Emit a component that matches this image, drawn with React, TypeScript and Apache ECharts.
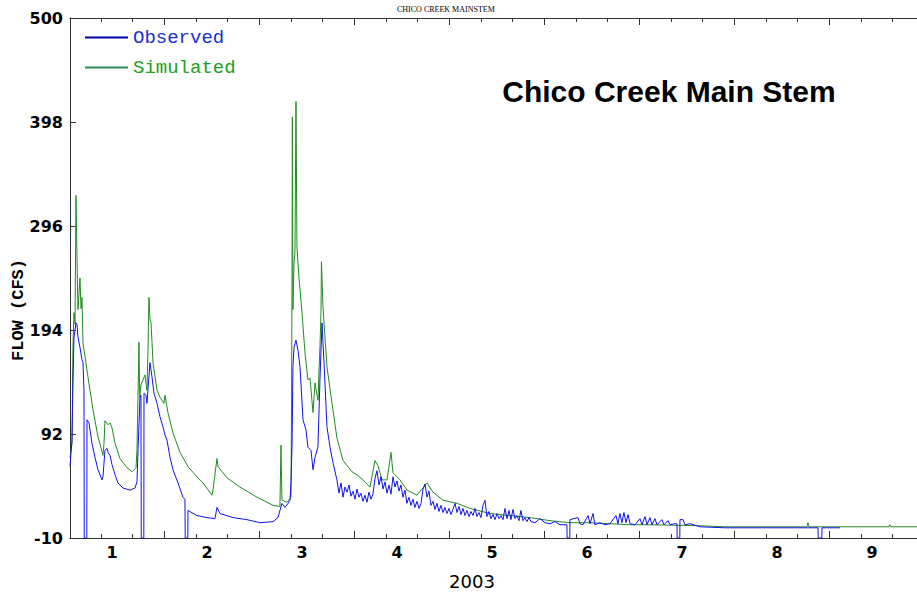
import React, { useEffect, useRef } from "react";
import * as echarts from "echarts";

// Observed flow (blue): month position, flow in CFS
const obsMonth = [
  0.558, 0.579, 0.589, 0.6, 0.621, 0.632, 0.642, 0.663, 0.684, 0.695, 0.705, 0.708, 0.735, 0.737,
  0.758, 0.789, 0.821, 0.853, 0.895, 0.905, 0.926, 0.947, 0.958, 0.979, 1.0, 1.032, 1.063, 1.116,
  1.189, 1.242, 1.263, 1.274, 1.295, 1.305, 1.308, 1.335, 1.337, 1.358, 1.368, 1.4, 1.421, 1.442,
  1.474, 1.505, 1.537, 1.558, 1.579, 1.611, 1.642, 1.695, 1.747, 1.768, 1.771, 1.798, 1.8, 1.895,
  2.0, 2.084, 2.105, 2.137, 2.274, 2.421, 2.558, 2.695, 2.747, 2.789, 2.821, 2.853, 2.874, 2.884,
  2.895, 2.905, 2.916, 2.937, 2.958, 2.979, 3.011, 3.042, 3.063, 3.095, 3.116, 3.137, 3.168, 3.189,
  3.211, 3.232, 3.263, 3.295, 3.326,
  3.368, 3.389, 3.411, 3.432, 3.453, 3.474, 3.495, 3.516, 3.537, 3.558, 3.579, 3.6, 3.621, 3.642,
  3.663, 3.684, 3.705, 3.726, 3.747, 3.768, 3.789, 3.811, 3.832, 3.853, 3.874, 3.895, 3.916, 3.937,
  3.958, 3.979, 4.0, 4.021, 4.042, 4.063, 4.084, 4.105, 4.126, 4.147, 4.168, 4.189, 4.211, 4.232,
  4.253, 4.274, 4.295, 4.316, 4.337, 4.358, 4.379, 4.4, 4.421, 4.442, 4.463, 4.484, 4.505, 4.526,
  4.547, 4.568, 4.589, 4.611, 4.632, 4.653, 4.674, 4.695, 4.716, 4.737, 4.758, 4.779, 4.8, 4.821,
  4.842, 4.863, 4.884, 4.905, 4.926, 4.947, 4.968, 4.989, 5.011, 5.032, 5.053, 5.074, 5.095, 5.116,
  5.137, 5.158, 5.179, 5.2, 5.221, 5.242, 5.263, 5.284, 5.305, 5.326, 5.347, 5.368, 5.389, 5.411,
  5.453, 5.505, 5.558, 5.611, 5.663, 5.716,
  5.789, 5.791, 5.819, 5.821, 5.905, 5.926, 5.958, 6.011, 6.032, 6.063, 6.084, 6.137, 6.189, 6.242,
  6.305, 6.326, 6.347, 6.368, 6.389, 6.411, 6.432, 6.453, 6.505, 6.558, 6.579, 6.611, 6.632, 6.663,
  6.684, 6.716, 6.737, 6.789, 6.811, 6.853, 6.874, 6.926, 6.947, 6.949, 6.977, 6.979, 7.011, 7.032,
  7.084, 7.189, 7.453, 8.432, 8.434, 8.472, 8.474, 8.663,
];
const obsFlow = [
  60, 86, 142, 187, 201, 199, 187, 177, 165, 162, 135, -10, -10, 106,
  103, 83, 69, 57, 47, 50, 76, 78, 74, 71, 62, 52, 44, 39,
  37, 39, 45, 76, 128, 130, -10, -10, 132, 130, 122, 162, 148, 132,
  122, 109, 99, 91, 86, 69, 57, 44, 30, 28, -10, -10, 17, 12,
  10, 9, 20, 14, 10, 8, 5, 6, 10, 24, 20, 24, 27, 44,
  79, 158, 177, 184, 174, 158, 106, 96, 79, 76, 57, 69, 79, 145,
  201, 162, 99, 79, 64,
  47, 34, 44, 30, 40, 35, 42, 31, 36, 28, 38, 30, 34, 26,
  32, 25, 35, 28, 33, 48, 56, 42, 50, 38, 45, 34, 42, 33,
  50, 40, 46, 36, 42, 30, 37, 24, 30, 22, 28, 20, 26, 19,
  24, 38, 43, 30, 36, 22, 26, 18, 24, 16, 22, 15, 20, 14,
  19, 13, 18, 24, 15, 21, 13, 19, 12, 17, 11, 16, 12, 19,
  11, 15, 10, 22, 27, 11, 16, 9, 13, 8, 14, 9, 12, 8,
  19, 9, 17, 8, 18, 9, 12, 7, 17, 7, 10, 6, 10, 6,
  5, 9, 5, 4, 6, 3,
  3, -10, -10, 8, 10, 4, 3, 12, 4, 14, 3, 5, 3, 4,
  12, 4, 14, 5, 15, 5, 13, 4, 3, 9, 3, 11, 3, 10,
  3, 9, 3, 8, 3, 7, 3, 4, 4, -10, -10, 8, 8, 3,
  4, 1, 0, 0, -10, -10, 0, 0,
];

// Simulated flow (green)
const simMonth = [
  0.558, 0.579, 0.589, 0.6, 0.611, 0.621, 0.632, 0.642, 0.653, 0.663, 0.674, 0.684, 0.695, 0.716,
  0.747, 0.8, 0.853, 0.895, 0.905, 0.916, 0.926, 0.958, 0.979, 1.0, 1.032, 1.084, 1.158, 1.211,
  1.253, 1.263, 1.274, 1.284, 1.292, 1.305, 1.326, 1.347, 1.368, 1.379, 1.389, 1.4, 1.411, 1.432,
  1.474, 1.505, 1.547, 1.558, 1.589, 1.642, 1.716, 1.8, 1.895, 1.958, 2.053, 2.063, 2.105, 2.116,
  2.211, 2.347, 2.526, 2.695, 2.768, 2.779, 2.789, 2.842, 2.884, 2.89, 2.895, 2.899, 2.905, 2.916,
  2.926, 2.937, 2.947, 2.968, 3.0, 3.032, 3.063, 3.084, 3.116, 3.137, 3.168, 3.19, 3.2, 3.205,
  3.221, 3.263, 3.316, 3.368, 3.432, 3.526, 3.579, 3.642, 3.716, 3.768, 3.8, 3.842, 3.895, 3.937,
  3.958, 4.032, 4.105, 4.211, 4.274, 4.316, 4.379, 4.484, 4.632, 4.768, 4.979, 5.189, 5.4, 5.611,
  5.821, 6.032, 6.242, 6.453, 6.663, 7.189, 7.453, 8.316, 8.326, 8.336, 9.179, 9.189, 9.2, 9.474,
];
const simFlow = [
  69, 83, 177, 211, 200, 326, 263, 214, 230, 245, 215, 226, 181, 168,
  148, 116, 89, 75, 71, 83, 105, 101, 103, 98, 83, 68, 59, 55,
  59, 76, 130, 182, 128, 140, 145, 150, 135, 174, 226, 205, 201, 162,
  135, 128, 122, 130, 113, 93, 74, 60, 50, 44, 32, 37, 68, 60,
  49, 40, 30, 22, 21, 81, 27, 25, 30, 120, 246, 403, 214, 260,
  270, 418, 275, 246, 211, 171, 145, 147, 113, 142, 125, 180, 211, 261,
  217, 158, 122, 88, 66, 55, 52, 47, 40, 66, 61, 47, 47, 74,
  54, 47, 37, 32, 39, 44, 35, 27, 24, 19, 14, 12, 10, 7,
  5, 5, 4, 3, 3, 2, 1, 1, 5, 1, 1, 3, 1, 1,
];

const yTicks = [-10, 92, 194, 296, 398, 500];
const xLabels = [1, 2, 3, 4, 5, 6, 7, 8, 9];
const xMajorTicks = [1.55, 2.55, 3.55, 4.55, 5.55, 6.55, 7.55, 8.55];
const xMinorTicks = [
  0.883, 1.217, 1.883, 2.217, 2.883, 3.217, 3.883, 4.217, 4.883, 5.217, 5.883, 6.217, 6.883, 7.217,
  7.883, 8.217, 8.883, 9.217,
];

const X_MIN = 0.558;
const X_MAX = 9.474;

export default function App() {
  const ref = useRef<HTMLDivElement>(null);
  useEffect(() => {
    if (!ref.current) return;
    const chart = echarts.init(ref.current, null, { renderer: "svg" });
    const obsData = obsMonth.map((m, i) => [m, obsFlow[i]]);
    const simData = simMonth.map((m, i) => [m, simFlow[i]]);
    const labelFont = { fontFamily: "DejaVu Sans", fontWeight: "bold" as const, fontSize: 16, color: "#000" };
    const gridBox = { left: 70, right: 0, top: 18, bottom: 56 };
    const xBase = (pos: string, grid: number) => ({
      type: "value" as const,
      gridIndex: grid,
      position: pos,
      min: X_MIN,
      max: X_MAX,
      splitLine: { show: false },
      axisLine: { show: true, onZero: false, lineStyle: { color: "#333", width: 1 } },
    });
    chart.setOption({
      animation: false,
      backgroundColor: "#fff",
      grid: [gridBox, gridBox],
      xAxis: [
        {
          ...xBase("bottom", 0),
          axisTick: { show: true, inside: true, length: 7, customValues: xMajorTicks, lineStyle: { color: "#333" } },
          axisLabel: { show: true, customValues: xLabels, margin: 6, ...labelFont },
        },
        {
          ...xBase("top", 0),
          axisTick: { show: true, inside: true, length: 7, customValues: xMajorTicks, lineStyle: { color: "#333" } },
          axisLabel: { show: false },
        },
        {
          ...xBase("bottom", 1),
          axisTick: { show: true, inside: true, length: 4, customValues: xMinorTicks, lineStyle: { color: "#333" } },
          axisLabel: { show: false },
        },
        {
          ...xBase("top", 1),
          axisTick: { show: true, inside: true, length: 4, customValues: xMinorTicks, lineStyle: { color: "#333" } },
          axisLabel: { show: false },
        },
      ],
      yAxis: [
        {
          type: "value",
          gridIndex: 0,
          min: -10,
          max: 500,
          splitLine: { show: false },
          axisLine: { show: true, lineStyle: { color: "#333", width: 1 } },
          axisTick: { show: true, inside: true, length: 6, customValues: yTicks, lineStyle: { color: "#333" } },
          axisLabel: { show: true, customValues: yTicks, margin: 7, ...labelFont },
        },
        {
          type: "value",
          gridIndex: 1,
          min: -10,
          max: 500,
          show: false,
        },
      ],
      legend: {
        orient: "vertical",
        left: 85,
        top: 28,
        padding: 0,
        itemWidth: 43,
        itemHeight: 2,
        itemGap: 11,
        icon: "rect",
        selectedMode: false,
        textStyle: { fontFamily: "Liberation Mono", fontSize: 19 },
        data: [
          { name: "Observed", itemStyle: { color: "#0000a8" }, textStyle: { color: "#2030d0" } },
          { name: "Simulated", itemStyle: { color: "#2e8b57" }, textStyle: { color: "#20a020" } },
        ],
      },
      graphic: [
        {
          type: "text",
          left: 397,
          top: 5,
          style: { text: "CHICO CREEK MAINSTEM", fontFamily: "Liberation Serif", fontSize: 8, fill: "#000" },
        },
        {
          type: "text",
          x: 669,
          y: 91,
          style: {
            text: "Chico Creek Main Stem",
            fontFamily: "Liberation Sans",
            fontWeight: "bold",
            fontSize: 30,
            fill: "#000",
            align: "center",
            verticalAlign: "middle",
          },
        },
        {
          type: "text",
          x: 18,
          y: 310,
          rotation: Math.PI / 2,
          style: {
            text: "FLOW (CFS)",
            fontFamily: "Liberation Mono",
            fontWeight: "bold",
            fontSize: 17,
            fill: "#000",
            align: "center",
            verticalAlign: "middle",
          },
        },
        {
          type: "text",
          x: 472,
          y: 581,
          style: {
            text: "2003",
            fontFamily: "DejaVu Sans",
            fontSize: 18,
            fill: "#000",
            align: "center",
            verticalAlign: "middle",
          },
        },
      ],
      series: [
        {
          name: "Simulated",
          type: "line",
          xAxisIndex: 0,
          yAxisIndex: 0,
          data: simData,
          showSymbol: false,
          symbol: "none",
          lineStyle: { color: "#228b22", width: 1 },
          itemStyle: { color: "#228b22" },
        },
        {
          name: "Observed",
          type: "line",
          xAxisIndex: 0,
          yAxisIndex: 0,
          data: obsData,
          showSymbol: false,
          symbol: "none",
          lineStyle: { color: "#1212f0", width: 1 },
          itemStyle: { color: "#1212f0" },
        },
      ],
    });
    return () => chart.dispose();
  }, []);
  return (
    <div
      ref={ref}
      style={{ position: "absolute", left: 0, top: 0, width: 917, height: 594, background: "#fff" }}
    />
  );
}
